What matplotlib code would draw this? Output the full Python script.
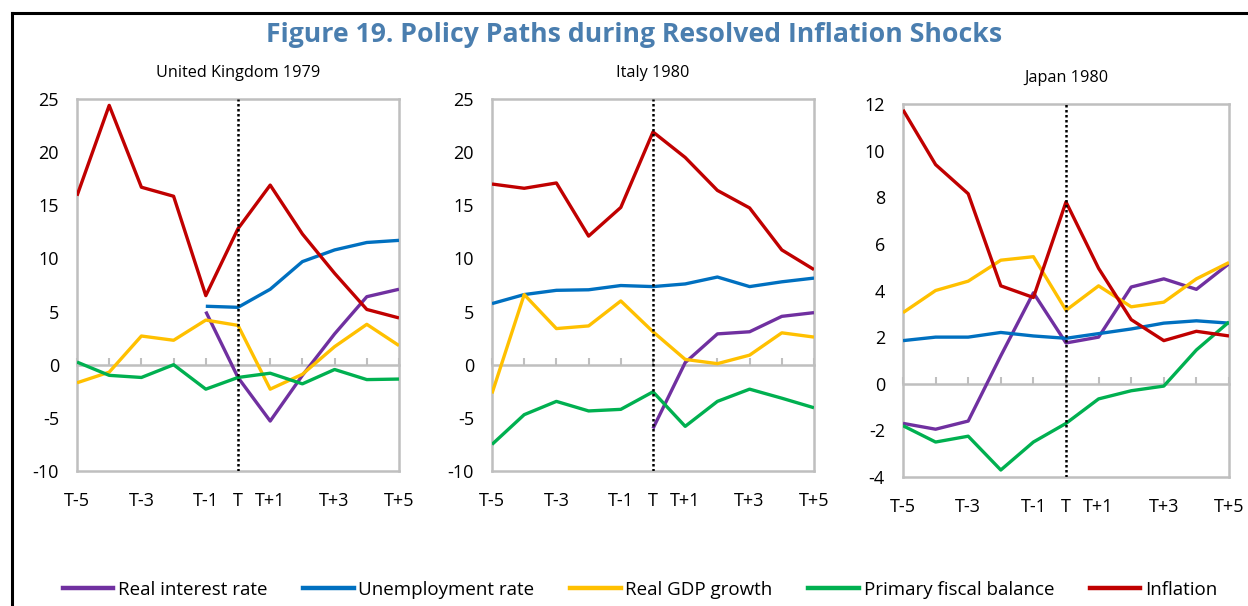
import numpy as np
import matplotlib.pyplot as plt
from matplotlib.lines import Line2D

plt.rcParams['font.family'] = ['Open Sans', 'DejaVu Sans']
plt.rcParams['axes.unicode_minus'] = False

# Trục thời gian và nhãn
periods = ['T-5', 'T-4', 'T-3', 'T-2', 'T-1', 'T', 'T+1', 'T+2', 'T+3', 'T+4', 'T+5']
shown_labels = ['T-5', 'T-3', 'T-1', 'T', 'T+1', 'T+3', 'T+5']

series_names = ['Real interest rate', 'Unemployment rate', 'Real GDP growth',
                'Primary fiscal balance', 'Inflation']
series_colors = ['#7030A0', '#0070C0', '#FFC000', '#00B050', '#C00000']

nan = np.nan

# United Kingdom 1979
uk_real_rate = [nan, nan, nan, nan, 5.0, -1.2, -5.3, -1.0, 2.9, 6.4, 7.1]
uk_unemp = [nan, nan, nan, nan, 5.5, 5.4, 7.1, 9.7, 10.8, 11.5, 11.7]
uk_gdp = [-1.7, -0.7, 2.7, 2.3, 4.2, 3.7, -2.3, -0.9, 1.7, 3.8, 1.8]
uk_fiscal = [0.25, -1.0, -1.2, 0.0, -2.3, -1.2, -0.8, -1.8, -0.45, -1.4, -1.35]
uk_infl = [15.9, 24.4, 16.7, 15.85, 6.5, 12.8, 16.9, 12.3, 8.6, 5.2, 4.4]

# Italy 1980
it_real_rate = [nan, nan, nan, nan, nan, -6.0, 0.2, 2.9, 3.1, 4.55, 4.9]
it_unemp = [5.75, 6.6, 7.0, 7.05, 7.45, 7.35, 7.6, 8.25, 7.35, 7.8, 8.15]
it_gdp = [-2.7, 6.6, 3.4, 3.65, 6.0, 3.1, 0.5, 0.1, 0.9, 3.0, 2.6]
it_fiscal = [-7.5, -4.7, -3.45, -4.35, -4.2, -2.55, -5.8, -3.45, -2.3, -3.15, -4.05]
it_infl = [17.0, 16.6, 17.1, 12.1, 14.8, 21.9, 19.5, 16.4, 14.75, 10.8, 8.95]

# Japan 1980
jp_real_rate = [-1.7, -1.95, -1.6, 1.2, 3.9, 1.75, 2.0, 4.15, 4.5, 4.05, 5.15]
jp_unemp = [1.85, 2.0, 2.0, 2.2, 2.05, 1.95, 2.15, 2.35, 2.6, 2.7, 2.6]
jp_gdp = [3.05, 4.0, 4.4, 5.3, 5.45, 3.15, 4.2, 3.3, 3.5, 4.5, 5.2]
jp_fiscal = [-1.8, -2.5, -2.25, -3.7, -2.5, -1.7, -0.65, -0.3, -0.1, 1.45, 2.65]
jp_infl = [11.75, 9.4, 8.15, 4.2, 3.7, 7.8, 4.95, 2.75, 1.85, 2.25, 2.05]

panels = [
    ('United Kingdom 1979', [uk_real_rate, uk_unemp, uk_gdp, uk_fiscal, uk_infl], (-10, 25, 5)),
    ('Italy 1980', [it_real_rate, it_unemp, it_gdp, it_fiscal, it_infl], (-10, 25, 5)),
    ('Japan 1980', [jp_real_rate, jp_unemp, jp_gdp, jp_fiscal, jp_infl], (-4, 12, 2)),
]

# Vị trí các khung đồ thị (pixel: trái, trên, phải, dưới)
W, H = 1248, 606
boxes = [(77, 99, 399, 471), (492, 99, 814, 471), (903, 104, 1229, 477)]
title_y = [73, 73, 78]

fig = plt.figure(figsize=(W / 100, H / 100), dpi=100)
grey = '#BFBFBF'
x = np.arange(len(periods))
t_idx = periods.index('T')

for (name, data, (ymin, ymax, step)), (l, t, r, b), ty in zip(panels, boxes, title_y):
    ax = fig.add_axes([l / W, 1 - b / H, (r - l) / W, (b - t) / H])
    for vals, col in zip(data, series_colors):
        ax.plot(x, vals, color=col, lw=2.4, zorder=3, solid_capstyle='butt')
    ax.axvline(t_idx, color='black', lw=1.8, linestyle=(0, (1, 1)), zorder=4)

    ax.set_xlim(0, len(periods) - 1)
    ax.set_ylim(ymin, ymax)
    ax.set_yticks(np.arange(ymin, ymax + step, step))
    ax.tick_params(axis='y', length=0, pad=13, labelsize=13)

    # Trục 0 với vạch chia hướng lên
    ax.spines['bottom'].set_position(('data', 0))
    ax.set_xticks(x)
    ax.tick_params(axis='x', direction='in', length=5, color=grey, width=1.5,
                   labelbottom=False)
    for sp in ax.spines.values():
        sp.set_color(grey)
        sp.set_linewidth(1.8)
    ax.spines['bottom'].set_zorder(2)

    # Nhãn trục x ở đáy khung
    sec = ax.secondary_xaxis(0.0)
    sec.set_xticks([periods.index(s) for s in shown_labels])
    sec.set_xticklabels(shown_labels)
    sec.tick_params(length=0, pad=15, labelsize=13)
    sec.spines['bottom'].set_color(grey)
    sec.spines['bottom'].set_linewidth(1.8)

    fig.text((l + r) / 2 / W, 1 - ty / H, name, ha='center', va='center', fontsize=11.7)

fig.text(634 / W, 1 - 35 / H, 'Figure 19. Policy Paths during Resolved Inflation Shocks',
         ha='center', va='center', fontsize=19.2, fontweight='bold', color='#4A7EAF')

handles = [Line2D([], [], color=c, lw=3.2) for c in series_colors]
fig.legend(handles, series_names, loc='center', bbox_to_anchor=(640 / W, 1 - 590 / H),
           ncol=5, frameon=False, fontsize=13.5, handlelength=2.7, handletextpad=0.25,
           columnspacing=1.9)

# Khung viền đen
fig.add_artist(Line2D([12 / W, 1], [1 - 13 / H, 1 - 13 / H], color='black', lw=2.2))
fig.add_artist(Line2D([12 / W, 12 / W], [1 - 13 / H, 0], color='black', lw=2.2))

fig.savefig('out.png', dpi=100)
